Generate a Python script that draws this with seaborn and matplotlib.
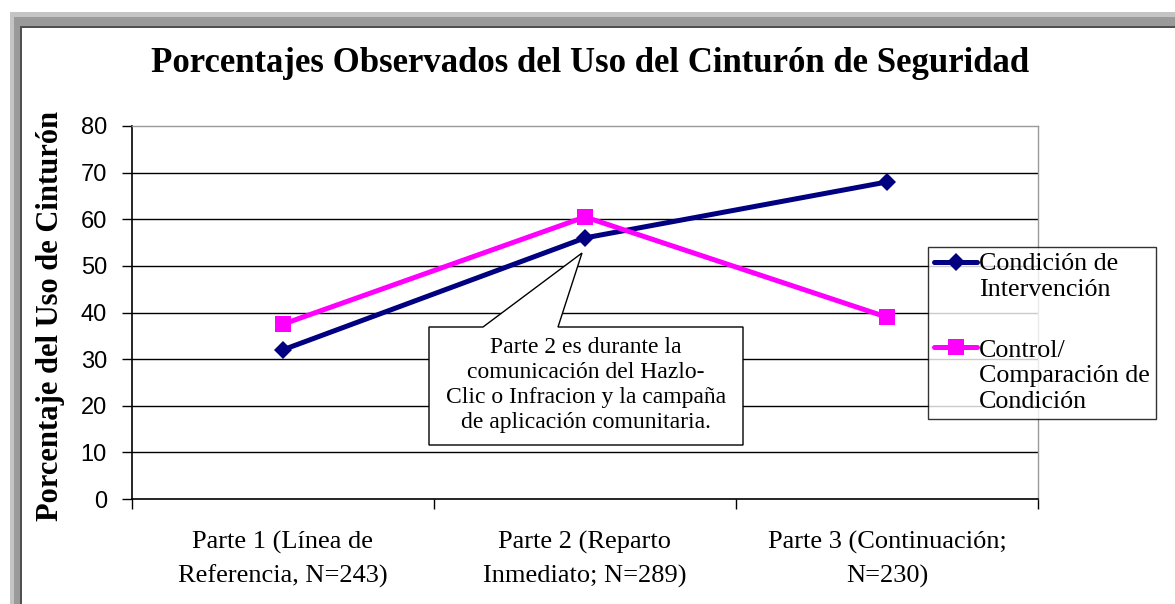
import matplotlib
matplotlib.use("Agg")
import matplotlib.pyplot as plt
import seaborn as sns
import pandas as pd
import numpy as np
from matplotlib.patches import Rectangle, Polygon
from matplotlib.legend_handler import HandlerLine2D

# ---- data ----
categories = ["Parte 1 (Línea de\nReferencia, N=243)",
              "Parte 2 (Reparto\nInmediato; N=289)",
              "Parte 3 (Continuación;\nN=230)"]
series_names = ["Condición de\nIntervención", "Control/\nComparación de\nCondición"]
intervencion = [32, 56, 68]
control = [37.5, 60.5, 39]
y_ticks = [0, 10, 20, 30, 40, 50, 60, 70, 80]
title = "Porcentajes Observados del Uso del Cinturón de Seguridad"
y_label = "Porcentaje del Uso de Cinturón"
note = "Parte 2 es durante la\ncomunicación del Hazlo-\nClic o Infracion y la campaña\nde aplicación comunitaria."

sns.set_theme(style="white")
plt.rcParams['font.family'] = ['Liberation Serif', 'DejaVu Serif']
plt.rcParams['text.color'] = 'black'
plt.rcParams['xtick.color'] = 'black'
plt.rcParams['ytick.color'] = 'black'
plt.rcParams['axes.labelcolor'] = 'black'

W, H = 1175, 604
fig = plt.figure(figsize=(W / 100, H / 100), dpi=100)
fig.patch.set_facecolor("white")

def fx(x):
    return x / W

def fy(y):
    return 1 - y / H

# gray frame
fig.patches.append(Rectangle((fx(10), fy(28)), fx(W - 10), 16 / H, transform=fig.transFigure,
                             facecolor="#c4c4c4", edgecolor="none", zorder=0))
fig.patches.append(Rectangle((fx(10), 0), fx(12), fy(12), transform=fig.transFigure,
                             facecolor="#c4c4c4", edgecolor="none", zorder=0))
fig.patches.append(Rectangle((fx(14), fy(26)), fx(W - 14), 9 / H, transform=fig.transFigure,
                             facecolor="#9a9a9a", edgecolor="none", zorder=0))
fig.patches.append(Rectangle((fx(14), 0), fx(6), fy(17), transform=fig.transFigure,
                             facecolor="#9a9a9a", edgecolor="none", zorder=0))
fig.patches.append(Rectangle((fx(20), fy(28)), fx(W - 20), 2 / H, transform=fig.transFigure,
                             facecolor="#505050", edgecolor="none", zorder=0))
fig.patches.append(Rectangle((fx(20), 0), fx(2), fy(26), transform=fig.transFigure,
                             facecolor="#505050", edgecolor="none", zorder=0))

ax = fig.add_axes([fx(132), fy(499), fx(1038 - 132), (499 - 126) / H])

df = pd.DataFrame({
    "pos": list(range(len(categories))) * 2,
    "valor": intervencion + control,
    "serie": [series_names[0]] * len(intervencion) + [series_names[1]] * len(control),
})

sns.lineplot(data=df, x="pos", y="valor", hue="serie", style="serie",
             markers={series_names[0]: "D", series_names[1]: "s"}, dashes=False,
             palette={series_names[0]: "#000080", series_names[1]: "#FF00FF"},
             linewidth=3.6, markersize=11, markeredgewidth=0, ax=ax, legend=True)

msizes = {series_names[0]: 9.5, series_names[1]: 12}
for line, name in zip(ax.lines[:2], series_names):
    line.set_markersize(msizes[name])

ax.set_xlim(-0.5, len(categories) - 0.5)
ax.set_ylim(0, 80)
ax.set_yticks(y_ticks)
ax.set_yticklabels([str(t) for t in y_ticks], family="Liberation Sans", fontsize=17)
ax.set_xticks(range(len(categories)))
ax.set_xticklabels(categories, fontsize=19, linespacing=1.6)
ax.set_xticks([-0.5, 0.5, 1.5, 2.5], minor=True)
ax.tick_params(axis="x", which="major", length=0, pad=23)
ax.tick_params(axis="x", which="minor", length=7, width=1, color="black", direction="out", bottom=True)
ax.tick_params(axis="y", length=7, width=1, color="black", direction="out", left=True, pad=11)
ax.set_xlabel("")
ax.set_ylabel("")

for t in y_ticks[1:-1]:
    ax.axhline(t, color="black", linewidth=1, zorder=0.5)

for s in ["left", "bottom"]:
    ax.spines[s].set_color("black")
    ax.spines[s].set_linewidth(1.2)
for s in ["top", "right"]:
    ax.spines[s].set_color("#9a9a9a")
    ax.spines[s].set_linewidth(1)

# title and y label
fig.text(fx(590), fy(63), title, ha="center", va="center", fontsize=25, fontweight="bold")
fig.text(fx(51), fy(316), y_label, ha="center", va="center", rotation=90,
         fontsize=22, fontweight="bold")

# callout
pts = [(429, 327), (483, 327), (582, 253), (558, 327), (743, 327), (743, 445), (429, 445)]
callout = Polygon([(fx(x), fy(y)) for x, y in pts], closed=True, transform=fig.transFigure,
                  facecolor="white", edgecolor="black", linewidth=1, zorder=1.5, clip_on=False)
ax.add_patch(callout)
ax.text(fx(586), fy(385), note, transform=fig.transFigure, ha="center", va="center",
        fontsize=17, linespacing=1.24, zorder=3)


# legend: handle aligned with the first text line
class TopLineHandler(HandlerLine2D):
    def __init__(self, nlines, **kw):
        super().__init__(**kw)
        self.nlines = nlines

    def create_artists(self, legend, orig_handle, xdescent, ydescent, width, height, fontsize, trans):
        artists = super().create_artists(legend, orig_handle, xdescent, ydescent,
                                         width, height, fontsize, trans)
        shift = (self.nlines - 1) / 2 * 1.12 * fontsize
        for a in artists:
            a.set_ydata(np.asarray(a.get_ydata(), dtype=float) + shift)
        return artists


handles, labels = ax.get_legend_handles_labels()
ax.legend_.remove()
for h, name in zip(handles, labels):
    h.set_markersize(msizes.get(name, 10))
hmap = {h: TopLineHandler(lab.count("\n") + 1) for h, lab in zip(handles, labels)}
leg = fig.legend(handles, labels, loc="upper left", bbox_to_anchor=(fx(928), fy(247)),
                 borderaxespad=0, frameon=True, fancybox=False, fontsize=18.7,
                 handlelength=1.65, handletextpad=0.05, borderpad=0.25, labelspacing=1.5,
                 edgecolor="black", handler_map=hmap)
leg.get_frame().set_linewidth(1)

fig.savefig("out.png", dpi=100, facecolor="white")
